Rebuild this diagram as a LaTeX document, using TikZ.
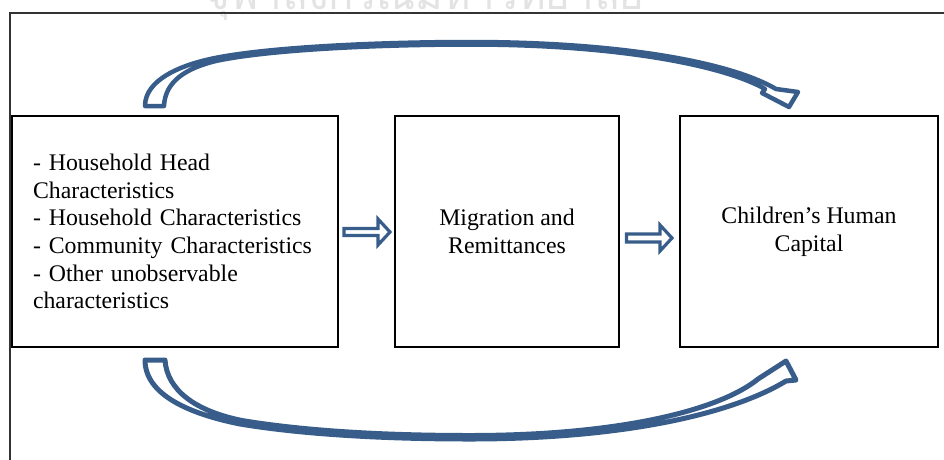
\documentclass[tikz,border=0pt]{standalone}
\usepackage{fontspec}
\setmainfont{Liberation Serif}
\newfontfamily\thaifont[Script=Thai]{Loma}
\usetikzlibrary{calc}
\definecolor{arrowblue}{RGB}{56,93,138}
\begin{document}
\begin{tikzpicture}[x=1pt,y=-1pt,
  box/.style={draw=black, line width=1.1pt, inner sep=0pt, minimum height=231,
    font={\fontsize{23.8pt}{27.7pt}\selectfont}, align=center},
  blockarrow/.style={draw=arrowblue, fill=white, line width=3.2pt, line join=miter},
  curvearrow/.style={draw=arrowblue, fill=white, line width=4.5pt, line join=round}]
\useasboundingbox (0,0) rectangle (944,459);
% watermark
\node[anchor=base, text=gray!22, inner sep=0pt, font={\thaifont\fontsize{42pt}{42pt}\selectfont}] (wm) at (425,9) {จุฬาลงกรณ์มหาวิทยาลัย};
% outer frame
\draw[black!80, line width=1.6pt] (10,13) rectangle (990,490);
% boxes
\node[box, minimum width=326, text width=284, align=left] (b1) at (175,231.5)
  {- Household Head\\Characteristics\\- Household Characteristics\\- Community Characteristics\\- Other unobservable\\characteristics};
\node[box, minimum width=224] (b2) at (507,231.5) {Migration and\\Remittances};
\node[box, minimum width=258] (b3) at (809,231.5) {Children’s Human\\Capital};
% straight block arrows
\coordinate (a1) at (344,232);
\draw[blockarrow, shift={(a1)}] (0,-3.5) -- (34,-3.5) -- (34,-13) -- (46,0) -- (34,13) -- (34,3.5) -- (0,3.5) -- cycle;
\coordinate (a2) at (626.5,238);
\draw[blockarrow, shift={(a2)}] (0,-4) -- (33.5,-4) -- (33.5,-13) -- (45.5,0) -- (33.5,13) -- (33.5,4) -- (0,4) -- cycle;
% top curved arrow
\draw[curvearrow] (145,106) .. controls (145,80) and (180,65) .. (215,58)
  .. controls (270,47) and (380,42) .. (470,42)
  .. controls (620,42) and (730,62) .. (776,89)
  -- (798,92) -- (789,107) -- (762,93) -- (765,89)
  .. controls (725,66) and (620,44.5) .. (470,44.5)
  .. controls (380,44.5) and (272,49.5) .. (218,60.5)
  .. controls (185,68) and (165,82) .. (164,106) -- cycle;
% bottom curved arrow
\draw[curvearrow, line width=5pt] (145,360) .. controls (145,395) and (190,414) .. (240,424)
  .. controls (300,434) and (380,439) .. (470,439)
  .. controls (620,439) and (730,415) .. (786,381)
  -- (796,380) -- (786,361) -- (758,379)
  .. controls (720,410) and (620,435.5) .. (470,435.5)
  .. controls (380,435.5) and (302,430.5) .. (242,420.5)
  .. controls (195,411) and (167,390) .. (165,360) -- cycle;
\end{tikzpicture}
\end{document}
